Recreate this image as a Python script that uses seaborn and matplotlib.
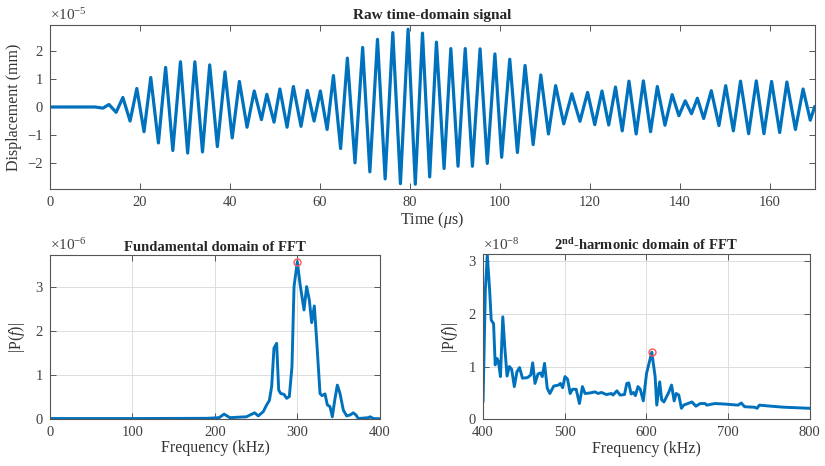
import matplotlib
matplotlib.use("Agg")
import matplotlib.pyplot as plt
import seaborn as sns

# raw signal: peaks and troughs (time in us, displacement in 1e-5 mm)
time_us = [0, 10.0, 11.8, 13.1, 14.7, 16.2, 17.8, 19.3, 20.9, 22.4, 24.1, 25.7, 27.3, 29.0, 30.6,
           32.2, 33.9, 35.5, 37.2, 38.9, 40.5, 42.1, 43.8, 45.4, 47.0, 48.2, 49.8, 51.1, 52.7,
           54.1, 55.8, 57.2, 58.7, 60.1, 61.6, 63.0, 64.6, 66.1, 67.8, 69.5, 71.1, 72.8, 74.5,
           76.2, 77.9, 79.6, 81.2, 82.8, 84.4, 85.9, 87.6, 89.1, 90.7, 92.3, 93.9, 95.6, 97.2,
           98.9, 100.4, 102.2, 103.9, 105.6, 107.4, 109.1, 110.8, 112.4, 114.2, 116.0, 117.8,
           119.5, 121.1, 122.7, 124.2, 125.7, 127.2, 128.7, 130.3, 131.9, 133.5, 135.0, 136.7,
           138.3, 139.8, 141.2, 142.6, 143.9, 145.3, 147.0, 148.7, 150.2, 151.9, 153.5, 155.3,
           157.0, 158.7, 160.4, 162.2, 163.8, 165.7, 167.4, 169.0, 170.0]
disp_e5 = [0, 0, -0.04, 0.09, -0.19, 0.34, -0.50, 0.66, -0.88, 1.05, -1.28, 1.41, -1.55, 1.61,
           -1.64, 1.61, -1.60, 1.50, -1.41, 1.25, -1.10, 0.91, -0.72, 0.57, -0.45, 0.45, -0.54,
           0.64, -0.72, 0.73, -0.69, 0.59, -0.50, 0.57, -0.80, 1.12, -1.48, 1.74, -1.99, 2.12,
           -2.31, 2.41, -2.56, 2.65, -2.73, 2.77, -2.75, 2.63, -2.49, 2.31, -2.19, 2.08, -2.11,
           2.08, -2.11, 2.07, -2.01, 1.89, -1.79, 1.70, -1.62, 1.48, -1.34, 1.14, -0.96, 0.76,
           -0.60, 0.47, -0.51, 0.52, -0.63, 0.57, -0.64, 0.71, -0.85, 0.92, -0.96, 0.93, -0.88,
           0.73, -0.65, 0.44, -0.31, 0.22, -0.24, 0.31, -0.41, 0.58, -0.66, 0.76, -0.85, 0.92,
           -0.95, 0.93, -0.95, 0.91, -0.91, 0.89, -0.80, 0.64, -0.47, 0.02]

# fundamental band (kHz, 1e-6)
f1_khz = [0, 100, 190, 205, 211, 218, 238, 248, 252.5, 258.6, 262.6, 265.9, 268.7, 271.5, 274.7,
          277.2, 279.6, 283.6, 286.9, 290.1, 293.3, 295.8, 299.8, 303, 307.9, 311.1, 314.3,
          317.2, 320.4, 323.2, 327.3, 329.7, 333.3, 336.2, 339.4, 342.2, 345.5, 348.3, 351.5,
          355.6, 359.6, 363.6, 367.7, 370.9, 373.7, 386, 388, 392, 400]
p1_e6 = [0.01, 0.01, 0.015, 0.03, 0.11, 0.03, 0.05, 0.14, 0.07, 0.17, 0.32, 0.42, 0.74, 1.61, 1.72,
         0.66, 0.58, 0.56, 0.47, 0.51, 1.19, 3.01, 3.58, 3.08, 2.48, 3.01, 2.71, 2.19, 2.57, 1.80,
         0.58, 0.53, 0.57, 0.32, 0.28, 0.05, 0.47, 0.77, 0.58, 0.20, 0.07, 0.09, 0.14, 0.09, 0.01,
         0.03, 0.05, 0.01, 0.005]
peak1 = (299.8, 3.58)

# second-harmonic band (kHz, 1e-8)
f2_khz = [400, 402.8, 405.2, 408.1, 410, 412.9, 414.9, 417.3, 418.9, 421.3, 424.2, 426.6, 429.4,
          432.2, 435, 438.3, 441.5, 444.7, 448.3, 454.4, 458.4, 460.8, 463.6, 467.3, 470.5, 472.5,
          475.3, 478.6, 481.8, 486.6, 492.6, 494.7, 497.5, 500.3, 503.5, 506.7, 509.6, 514, 518,
          521.7, 524.9, 530.9, 537, 541, 545, 551, 557.1, 559.1, 563.9, 567.9, 573.2, 576, 578.4,
          581.3, 584.1, 586.5, 589.7, 592.5, 596.2, 600.2, 606.6, 610.7, 612.7, 616.3, 618.7,
          621.5, 627.6, 630.8, 634, 636.5, 639.7, 642.9, 645.7, 655.8, 660.6, 665.8, 671.9, 673.9,
          684, 696, 712.2, 716.2, 720.2, 732.3, 735.5, 738.3, 752.4, 768.6, 784.7, 800]
p2_e8 = [0.33, 2.44, 3.11, 2.44, 1.88, 1.81, 1.03, 1.15, 1.09, 0.81, 1.94, 1.37, 0.82, 1.0, 0.95,
         0.62, 0.9, 0.98, 0.78, 0.79, 0.84, 1.07, 0.68, 0.86, 0.88, 0.81, 1.06, 0.59, 0.49, 0.63,
         0.65, 0.68, 0.6, 0.81, 0.76, 0.49, 0.57, 0.57, 0.30, 0.62, 0.49, 0.5, 0.52, 0.49, 0.51,
         0.47, 0.49, 0.46, 0.54, 0.46, 0.47, 0.68, 0.69, 0.48, 0.51, 0.45, 0.62, 0.57, 0.35, 0.87,
         1.27, 0.81, 0.27, 0.71, 0.37, 0.33, 0.52, 0.65, 0.35, 0.49, 0.46, 0.21, 0.27, 0.33, 0.25,
         0.30, 0.30, 0.27, 0.30, 0.29, 0.27, 0.31, 0.24, 0.23, 0.21, 0.27, 0.25, 0.23, 0.22, 0.21]
peak2 = (606.6, 1.27)

sns.set_style("ticks")
plt.rcParams['font.family'] = ['Liberation Serif', 'DejaVu Serif']
plt.rcParams['mathtext.fontset'] = 'custom'
plt.rcParams['mathtext.rm'] = 'Liberation Serif'
plt.rcParams['mathtext.it'] = 'Liberation Serif:italic'
plt.rcParams['mathtext.bf'] = 'Liberation Serif:bold'
plt.rcParams['lines.solid_joinstyle'] = 'round'

blue = '#0072BD'
grey = '#404040'

fig = plt.figure(figsize=(8.25, 4.66), dpi=100)
ax1 = fig.add_axes([0.0606, 0.5944, 0.927, 0.352])
ax2 = fig.add_axes([0.0606, 0.1009, 0.400, 0.352])
ax3 = fig.add_axes([0.5855, 0.1000, 0.396, 0.354])


def matlab_look(ax, grid):
    for s in ax.spines.values():
        s.set_color('#555555')
        s.set_linewidth(0.8)
    ax.tick_params(direction='in', top=True, right=True, length=4, width=0.7,
                   color='#555555', labelcolor=grey, labelsize=10.5, pad=5)
    if grid:
        ax.grid(True, color='#dddddd', linewidth=0.7)
        ax.set_axisbelow(True)


sns.lineplot(x=time_us, y=disp_e5, ax=ax1, color=blue, linewidth=2.3,
             estimator=None, sort=False)
ax1.set_xlim(0, 170)
ax1.set_ylim(-2.92, 2.92)
ax1.set_xticks(range(0, 161, 20))
ax1.set_yticks([-2, -1, 0, 1, 2])
ax1.set_title('Raw time-domain signal', fontsize=11, fontweight='bold', pad=4)
ax1.set_xlabel(r'Time ($\mu$s)', fontsize=11.5, color='#333333', labelpad=1)
ax1.set_ylabel('Displacement (mm)', fontsize=11.5, color='#333333', labelpad=4)
ax1.text(0.0, 1.01, r'$\times10^{-5}$', transform=ax1.transAxes, ha='left', va='bottom',
         fontsize=11, color=grey)
matlab_look(ax1, grid=False)

sns.lineplot(x=f1_khz, y=p1_e6, ax=ax2, color=blue, linewidth=2.1, estimator=None, sort=False)
ax2.plot(*peak1, marker='o', ms=5, mfc='none', mec='#ff5555', mew=1.0)
ax2.set_xlim(0, 400)
ax2.set_ylim(0, 3.73)
ax2.set_xticks([0, 100, 200, 300, 400])
ax2.set_yticks([0, 1, 2, 3])
ax2.set_title('Fundamental domain of FFT', fontsize=10.5, fontweight='bold', pad=3)
ax2.set_xlabel('Frequency (kHz)', fontsize=11.5, color='#333333', labelpad=1)
ax2.set_ylabel(r'|P($f$)|', fontsize=11.5, color='#333333', labelpad=6)
ax2.text(0.0, 1.01, r'$\times10^{-6}$', transform=ax2.transAxes, ha='left', va='bottom',
         fontsize=11, color=grey)
matlab_look(ax2, grid=True)

sns.lineplot(x=f2_khz, y=p2_e8, ax=ax3, color=blue, linewidth=2.1, estimator=None, sort=False)
ax3.plot(*peak2, marker='o', ms=5, mfc='none', mec='#ff5555', mew=1.0)
ax3.set_xlim(400, 800)
ax3.set_ylim(0, 3.12)
ax3.set_xticks([400, 500, 600, 700, 800])
ax3.set_yticks([0, 1, 2, 3])
ax3.set_title(r'2$^{\mathbf{nd}}$-harmonic domain of FFT', fontsize=10.5, fontweight='bold', pad=3)
ax3.set_xlabel('Frequency (kHz)', fontsize=11.5, color='#333333', labelpad=1)
ax3.set_ylabel(r'|P($f$)|', fontsize=11.5, color='#333333', labelpad=6)
ax3.text(0.0, 1.01, r'$\times10^{-8}$', transform=ax3.transAxes, ha='left', va='bottom',
         fontsize=11, color=grey)
matlab_look(ax3, grid=True)

fig.savefig('out.png', dpi=100)
